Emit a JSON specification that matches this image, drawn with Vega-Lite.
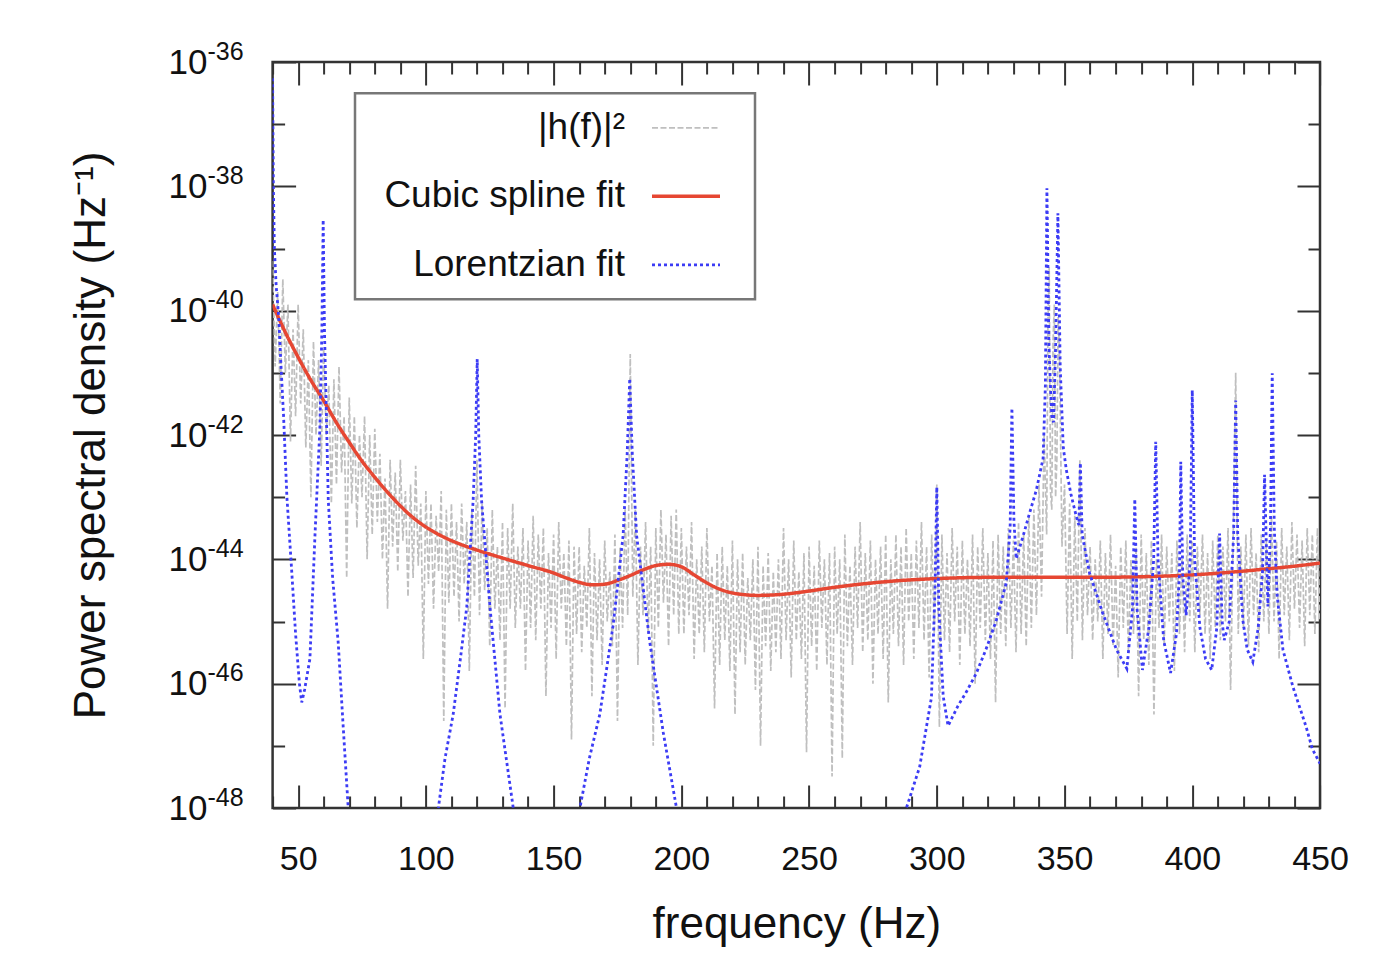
{
"$schema": "https://vega.github.io/schema/vega-lite/v6.json",
"width": 1047.4,
"height": 746,
"autosize": {"type": "none"},
"padding": {"left": 272.6, "top": 62, "right": 78, "bottom": 156},
"background": "#ffffff",
"config": {
  "font": "Liberation Sans",
  "view": {"stroke": "#333333", "strokeWidth": 2.5},
  "axis": {"grid": false, "domain": false, "tickColor": "#333333", "tickWidth": 2, "labelColor": "#111111", "titleColor": "#111111", "titleFontWeight": "normal", "labelFont": "Liberation Sans", "titleFont": "Liberation Sans"},
  "legend": {"symbolType": "M-2,0H2M2.7,0H2.7", "symbolSize": 1156, "symbolOffset": 296, "labelAlign": "right", "labelOffset": -80, "labelFontSize": 37, "labelFont": "Liberation Sans", "labelColor": "#111111", "labelLimit": 600, "rowPadding": 31, "padding": 16, "strokeColor": "#777777", "strokeWidth": 2.5, "fillColor": "#ffffff"}
},
"datasets": {
"psd": [
{"f":40,"v":6.3e-40},{"f":41,"v":1.26e-41},{"f":42,"v":2.0e-40},{"f":43,"v":3.2e-42},{"f":44,"v":3.2e-40},{"f":45,"v":1.0e-41},{"f":46,"v":1.26e-40},{"f":47,"v":7.9e-43},{"f":48,"v":5.0e-41},{"f":49,"v":2.0e-42},
{"f":50,"v":1.26e-40},{"f":51,"v":3.2e-42},{"f":52,"v":5.0e-41},{"f":53,"v":6.3e-43},{"f":54,"v":1.6e-41},{"f":55,"v":1.0e-43},{"f":56,"v":3.2e-41},{"f":57,"v":1.0e-42},{"f":58,"v":1.6e-41},{"f":59,"v":3.2e-43},
{"f":60,"v":2.5e-41},{"f":61,"v":1.0e-42},{"f":62,"v":6.3e-42},{"f":63,"v":7.9e-44},{"f":64,"v":7.9e-42},{"f":65,"v":1.6e-43},{"f":66,"v":1.26e-41},{"f":67,"v":2.5e-43},{"f":68,"v":2.0e-42},{"f":69,"v":5.0e-45},
{"f":70,"v":4.0e-42},{"f":71,"v":7.9e-44},{"f":72,"v":2.0e-42},{"f":73,"v":3.2e-44},{"f":74,"v":1.0e-42},{"f":75,"v":1.0e-43},{"f":76,"v":2.0e-42},{"f":77,"v":1.0e-44},{"f":78,"v":1.0e-42},{"f":79,"v":2.5e-44},
{"f":80,"v":1.26e-42},{"f":81,"v":4.0e-44},{"f":82,"v":5.0e-43},{"f":83,"v":1.0e-44},{"f":84,"v":2.0e-43},{"f":85,"v":1.6e-45},{"f":86,"v":4.0e-43},{"f":87,"v":1.6e-44},{"f":88,"v":2.5e-43},{"f":89,"v":6.3e-45},
{"f":90,"v":4.0e-43},{"f":91,"v":2.0e-44},{"f":92,"v":1.26e-43},{"f":93,"v":2.5e-45},{"f":94,"v":1.6e-43},{"f":95,"v":5.0e-45},{"f":96,"v":3.2e-43},{"f":97,"v":7.9e-45},{"f":98,"v":7.9e-44},{"f":99,"v":2.5e-46},
{"f":100,"v":1.26e-43},{"f":101,"v":4.0e-45},{"f":102,"v":7.9e-44},{"f":103,"v":1.6e-45},{"f":104,"v":5.0e-44},{"f":105,"v":6.3e-45},{"f":106,"v":1.26e-43},{"f":107,"v":2.5e-47},{"f":108,"v":6.3e-44},{"f":109,"v":2.0e-45},
{"f":110,"v":7.9e-44},{"f":111,"v":2.5e-45},{"f":112,"v":4.0e-44},{"f":113,"v":1.0e-45},{"f":114,"v":7.9e-44},{"f":115,"v":4.0e-45},{"f":116,"v":4.0e-44},{"f":117,"v":1.6e-46},{"f":118,"v":6.3e-44},{"f":119,"v":2.5e-45},
{"f":120,"v":4.0e-43},{"f":121,"v":1.26e-45},{"f":122,"v":7.9e-44},{"f":123,"v":3.2e-45},{"f":124,"v":3.2e-44},{"f":125,"v":4.0e-46},{"f":126,"v":6.3e-44},{"f":127,"v":1.6e-45},{"f":128,"v":1.6e-44},{"f":129,"v":5.0e-46},
{"f":130,"v":4.0e-44},{"f":131,"v":4.0e-47},{"f":132,"v":3.2e-44},{"f":133,"v":1.6e-45},{"f":134,"v":7.9e-44},{"f":135,"v":7.9e-46},{"f":136,"v":1.6e-44},{"f":137,"v":1.6e-45},{"f":138,"v":3.2e-44},{"f":139,"v":1.6e-46},
{"f":140,"v":2.0e-44},{"f":141,"v":7.9e-46},{"f":142,"v":5.0e-44},{"f":143,"v":5.0e-46},{"f":144,"v":2.5e-44},{"f":145,"v":1.6e-45},{"f":146,"v":3.2e-44},{"f":147,"v":6.3e-47},{"f":148,"v":1.26e-44},{"f":149,"v":7.9e-46},
{"f":150,"v":2.5e-44},{"f":151,"v":2.5e-46},{"f":152,"v":4.0e-44},{"f":153,"v":1.6e-45},{"f":154,"v":1.26e-44},{"f":155,"v":4.0e-46},{"f":156,"v":2.0e-44},{"f":157,"v":1.26e-47},{"f":158,"v":1.6e-44},{"f":159,"v":6.3e-46},
{"f":160,"v":1.6e-44},{"f":161,"v":3.2e-46},{"f":162,"v":7.9e-45},{"f":163,"v":7.9e-46},{"f":164,"v":3.2e-44},{"f":165,"v":6.3e-47},{"f":166,"v":1.26e-44},{"f":167,"v":5.0e-46},{"f":168,"v":1.0e-44},{"f":169,"v":2.0e-46},
{"f":170,"v":2.0e-44},{"f":171,"v":1.0e-45},{"f":172,"v":6.3e-45},{"f":173,"v":4.0e-46},{"f":174,"v":2.5e-44},{"f":175,"v":2.5e-47},{"f":176,"v":1.6e-44},{"f":177,"v":7.9e-46},{"f":178,"v":6.3e-44},{"f":179,"v":1.26e-45},
{"f":180,"v":2.0e-41},{"f":181,"v":2.5e-45},{"f":182,"v":6.3e-44},{"f":183,"v":2.0e-46},{"f":184,"v":1.6e-44},{"f":185,"v":1.26e-45},{"f":186,"v":4.0e-44},{"f":187,"v":6.3e-46},{"f":188,"v":1.6e-44},{"f":189,"v":1.0e-47},
{"f":190,"v":3.2e-44},{"f":191,"v":7.9e-46},{"f":192,"v":6.3e-44},{"f":193,"v":2.0e-45},{"f":194,"v":2.5e-44},{"f":195,"v":4.0e-46},{"f":196,"v":5.0e-44},{"f":197,"v":1.26e-45},{"f":198,"v":6.3e-44},{"f":199,"v":6.3e-46},
{"f":200,"v":3.2e-44},{"f":201,"v":6.3e-46},{"f":202,"v":1.6e-44},{"f":203,"v":1.26e-45},{"f":204,"v":4.0e-44},{"f":205,"v":2.5e-46},{"f":206,"v":1.0e-44},{"f":207,"v":6.3e-46},{"f":208,"v":1.6e-44},{"f":209,"v":3.2e-46},
{"f":210,"v":3.2e-44},{"f":211,"v":1.0e-45},{"f":212,"v":7.9e-45},{"f":213,"v":4.0e-47},{"f":214,"v":1.26e-44},{"f":215,"v":2.0e-46},{"f":216,"v":1.6e-44},{"f":217,"v":5.0e-46},{"f":218,"v":7.9e-45},{"f":219,"v":1.6e-46},
{"f":220,"v":2.0e-44},{"f":221,"v":3.2e-47},{"f":222,"v":1.0e-44},{"f":223,"v":3.2e-46},{"f":224,"v":1.26e-44},{"f":225,"v":2.0e-46},{"f":226,"v":5.0e-45},{"f":227,"v":5.0e-46},{"f":228,"v":1.0e-44},{"f":229,"v":7.9e-47},
{"f":230,"v":1.6e-44},{"f":231,"v":1.0e-47},{"f":232,"v":7.9e-45},{"f":233,"v":4.0e-46},{"f":234,"v":1.26e-44},{"f":235,"v":1.6e-46},{"f":236,"v":6.3e-45},{"f":237,"v":3.2e-46},{"f":238,"v":1.0e-44},{"f":239,"v":2.5e-46},
{"f":240,"v":3.2e-44},{"f":241,"v":5.0e-46},{"f":242,"v":1.0e-44},{"f":243,"v":1.26e-46},{"f":244,"v":2.0e-44},{"f":245,"v":5.0e-46},{"f":246,"v":6.3e-45},{"f":247,"v":2.5e-46},{"f":248,"v":1.26e-44},{"f":249,"v":7.9e-48},
{"f":250,"v":1.6e-44},{"f":251,"v":4.0e-46},{"f":252,"v":7.9e-45},{"f":253,"v":1.6e-46},{"f":254,"v":2.0e-44},{"f":255,"v":7.9e-46},{"f":256,"v":1.0e-44},{"f":257,"v":2.0e-46},{"f":258,"v":1.26e-44},{"f":259,"v":3.2e-48},
{"f":260,"v":1.6e-44},{"f":261,"v":6.3e-46},{"f":262,"v":1.0e-44},{"f":263,"v":6.3e-48},{"f":264,"v":2.5e-44},{"f":265,"v":4.0e-46},{"f":266,"v":7.9e-45},{"f":267,"v":2.0e-46},{"f":268,"v":1.6e-44},{"f":269,"v":7.9e-46},
{"f":270,"v":4.0e-44},{"f":271,"v":3.2e-46},{"f":272,"v":1.26e-44},{"f":273,"v":5.0e-46},{"f":274,"v":2.0e-44},{"f":275,"v":1.0e-46},{"f":276,"v":1.0e-44},{"f":277,"v":6.3e-46},{"f":278,"v":1.6e-44},{"f":279,"v":2.5e-46},
{"f":280,"v":2.5e-44},{"f":281,"v":5.0e-47},{"f":282,"v":1.0e-44},{"f":283,"v":6.3e-46},{"f":284,"v":2.5e-44},{"f":285,"v":4.0e-46},{"f":286,"v":1.6e-44},{"f":287,"v":2.0e-46},{"f":288,"v":3.2e-44},{"f":289,"v":1.0e-45},
{"f":290,"v":1.26e-44},{"f":291,"v":2.5e-46},{"f":292,"v":2.0e-44},{"f":293,"v":7.9e-46},{"f":294,"v":4.0e-44},{"f":295,"v":5.0e-46},{"f":296,"v":1.6e-44},{"f":297,"v":1.26e-46},{"f":298,"v":2.5e-44},{"f":299,"v":6.3e-46},
{"f":300,"v":1.6e-43},{"f":301,"v":2.0e-47},{"f":302,"v":2.5e-44},{"f":303,"v":5.0e-46},{"f":304,"v":1.26e-44},{"f":305,"v":3.2e-46},{"f":306,"v":3.2e-44},{"f":307,"v":1.0e-45},{"f":308,"v":1.6e-44},{"f":309,"v":2.0e-46},
{"f":310,"v":2.0e-44},{"f":311,"v":6.3e-46},{"f":312,"v":1.0e-44},{"f":313,"v":4.0e-46},{"f":314,"v":2.5e-44},{"f":315,"v":1.0e-46},{"f":316,"v":1.6e-44},{"f":317,"v":7.9e-46},{"f":318,"v":3.2e-44},{"f":319,"v":5.0e-46},
{"f":320,"v":1.26e-44},{"f":321,"v":2.5e-46},{"f":322,"v":2.0e-44},{"f":323,"v":5.0e-47},{"f":324,"v":2.5e-44},{"f":325,"v":6.3e-46},{"f":326,"v":1.6e-44},{"f":327,"v":4.0e-46},{"f":328,"v":3.2e-44},{"f":329,"v":7.9e-46},
{"f":330,"v":2.0e-44},{"f":331,"v":3.2e-46},{"f":332,"v":4.0e-44},{"f":333,"v":6.3e-46},{"f":334,"v":2.5e-44},{"f":335,"v":4.0e-46},{"f":336,"v":5.0e-44},{"f":337,"v":7.9e-46},{"f":338,"v":6.3e-44},{"f":339,"v":1.26e-45},
{"f":340,"v":1.6e-43},{"f":341,"v":2.5e-45},{"f":342,"v":1.0e-42},{"f":343,"v":2.5e-44},{"f":343.5,"v":6.3e-41},{"f":344,"v":5.0e-40},{"f":344.5,"v":1.26e-43},{"f":345,"v":6.3e-44},{"f":345.5,"v":3.2e-41},{"f":346,"v":1.26e-40},
{"f":346.5,"v":1.0e-43},{"f":347,"v":4.0e-43},{"f":347.5,"v":7.9e-41},{"f":348,"v":2.5e-41},{"f":349,"v":1.6e-44},
{"f":350,"v":1.6e-43},{"f":351,"v":6.3e-46},{"f":352,"v":7.9e-44},{"f":353,"v":2.5e-46},{"f":354,"v":5.0e-44},{"f":355,"v":1.0e-45},{"f":356,"v":4.0e-43},{"f":357,"v":5.0e-46},{"f":358,"v":3.2e-44},{"f":359,"v":1.26e-45},
{"f":360,"v":1.6e-44},{"f":361,"v":5.0e-46},{"f":362,"v":1.0e-44},{"f":363,"v":1.0e-45},{"f":364,"v":2.0e-44},{"f":365,"v":2.5e-46},{"f":366,"v":1.26e-44},{"f":367,"v":6.3e-46},{"f":368,"v":2.5e-44},{"f":369,"v":4.0e-46},
{"f":370,"v":7.9e-45},{"f":371,"v":1.26e-46},{"f":372,"v":1.6e-44},{"f":373,"v":7.9e-46},{"f":374,"v":2.0e-44},{"f":375,"v":3.2e-46},{"f":376,"v":1.0e-44},{"f":377,"v":6.3e-46},{"f":378,"v":1.6e-44},{"f":379,"v":6.3e-47},
{"f":380,"v":2.5e-44},{"f":381,"v":5.0e-46},{"f":382,"v":1.26e-44},{"f":383,"v":2.0e-46},{"f":384,"v":2.0e-44},{"f":385,"v":3.2e-47},{"f":386,"v":1.0e-44},{"f":387,"v":7.9e-46},{"f":388,"v":2.5e-44},{"f":389,"v":4.0e-46},
{"f":390,"v":1.6e-44},{"f":391,"v":1.0e-45},{"f":392,"v":1.26e-44},{"f":393,"v":1.6e-46},{"f":394,"v":2.0e-44},{"f":395,"v":6.3e-46},{"f":396,"v":1.0e-44},{"f":397,"v":3.2e-46},{"f":398,"v":2.5e-44},{"f":399,"v":1.0e-45},
{"f":400,"v":2.0e-44},{"f":401,"v":3.2e-46},{"f":402,"v":1.6e-44},{"f":403,"v":1.26e-45},{"f":404,"v":2.5e-44},{"f":405,"v":6.3e-46},{"f":406,"v":1.26e-44},{"f":407,"v":2.5e-46},{"f":408,"v":2.0e-44},{"f":409,"v":7.9e-46},
{"f":410,"v":2.5e-44},{"f":411,"v":5.0e-46},{"f":412,"v":1.6e-44},{"f":413,"v":1.0e-45},{"f":414,"v":3.2e-44},{"f":415,"v":7.9e-47},{"f":416,"v":2.0e-44},{"f":417,"v":1.0e-41},{"f":418,"v":6.3e-46},{"f":419,"v":1.6e-44},
{"f":420,"v":7.9e-46},{"f":421,"v":2.5e-44},{"f":422,"v":4.0e-46},{"f":423,"v":3.2e-44},{"f":424,"v":1.26e-45},{"f":425,"v":1.26e-44},{"f":426,"v":3.2e-46},{"f":427,"v":2.5e-44},{"f":428,"v":1.0e-45},{"f":429,"v":2.0e-44},
{"f":430,"v":6.3e-46},{"f":431,"v":5.0e-44},{"f":432,"v":1.0e-45},{"f":433,"v":2.0e-44},{"f":434,"v":2.5e-46},{"f":435,"v":3.2e-44},{"f":436,"v":1.26e-45},{"f":437,"v":1.6e-44},{"f":438,"v":5.0e-46},{"f":439,"v":4.0e-44},
{"f":440,"v":1.6e-45},{"f":441,"v":2.5e-44},{"f":442,"v":7.9e-46},{"f":443,"v":2.0e-44},{"f":444,"v":4.0e-46},{"f":445,"v":3.2e-44},{"f":446,"v":1.26e-45},{"f":447,"v":2.5e-44},{"f":448,"v":6.3e-46},{"f":449,"v":3.2e-44},
{"f":450,"v":1.0e-45}
],
"spline": [
{"f":40,"v":1.26e-40},{"f":45,"v":4.47e-41},{"f":50,"v":1.78e-41},{"f":55,"v":7.59e-42},{"f":60,"v":3.55e-42},{"f":65,"v":1.58e-42},{"f":70,"v":7.59e-43},{"f":75,"v":3.80e-43},{"f":80,"v":2.09e-43},{"f":85,"v":1.20e-43},
{"f":90,"v":7.24e-44},{"f":95,"v":4.68e-44},{"f":100,"v":3.31e-44},{"f":105,"v":2.51e-44},{"f":110,"v":2.00e-44},{"f":115,"v":1.66e-44},{"f":120,"v":1.41e-44},{"f":130,"v":1.05e-44},{"f":140,"v":7.94e-45},{"f":150,"v":6.03e-45},
{"f":155,"v":5.01e-45},{"f":160,"v":4.27e-45},{"f":165,"v":3.89e-45},{"f":170,"v":3.98e-45},{"f":175,"v":4.57e-45},{"f":180,"v":5.50e-45},{"f":185,"v":6.76e-45},{"f":190,"v":7.94e-45},{"f":195,"v":8.32e-45},{"f":200,"v":7.59e-45},
{"f":205,"v":5.62e-45},{"f":210,"v":4.17e-45},{"f":215,"v":3.31e-45},{"f":220,"v":2.88e-45},{"f":225,"v":2.69e-45},{"f":230,"v":2.63e-45},{"f":240,"v":2.75e-45},{"f":250,"v":3.09e-45},{"f":260,"v":3.55e-45},{"f":270,"v":3.98e-45},
{"f":280,"v":4.37e-45},{"f":290,"v":4.68e-45},{"f":300,"v":4.90e-45},{"f":320,"v":5.13e-45},{"f":340,"v":5.13e-45},{"f":360,"v":5.13e-45},{"f":380,"v":5.25e-45},{"f":400,"v":5.62e-45},{"f":420,"v":6.46e-45},{"f":430,"v":7.08e-45},
{"f":440,"v":7.76e-45},{"f":450,"v":8.71e-45}
],
"lorentz": [
{"f":40.0,"v":5.5e-37},{"f":40.3,"v":1.0e-38},{"f":40.7,"v":1.0e-39},{"f":41.4,"v":2.5e-40},{"f":42.4,"v":7.9e-41},{"f":43.3,"v":1.26e-41},{"f":44.3,"v":2.0e-42},{"f":45.6,"v":1.0e-43},{"f":47.5,"v":6.3e-45},{"f":49.0,"v":6.3e-46},
{"f":50.5,"v":1.0e-46},{"f":51.4,"v":5.0e-47},{"f":52.5,"v":7.9e-47},{"f":54.6,"v":2.5e-46},{"f":56.6,"v":2.5e-44},{"f":58.5,"v":1.26e-42},{"f":59.3,"v":5.0e-41},{"f":59.8,"v":2.9e-39},{"f":60.3,"v":5.0e-41},{"f":61.8,"v":8.9e-44},
{"f":63.5,"v":5.0e-45},{"f":65.7,"v":4.5e-46},{"f":67.5,"v":2.5e-47},{"f":69.6,"v":1.0e-48},{"f":71.5,"v":5.0e-50},{"f":87.0,"v":1.0e-51},{"f":104.9,"v":1.0e-48},{"f":107.5,"v":6.3e-48},{"f":110.7,"v":3.24e-47},{"f":113.5,"v":2.5e-46},
{"f":116.0,"v":1.7e-45},{"f":118.5,"v":8.9e-44},{"f":119.5,"v":1.0e-42},{"f":120.1,"v":1.66e-41},{"f":120.7,"v":1.0e-42},{"f":121.8,"v":8.9e-44},{"f":125.1,"v":1.7e-45},{"f":129.0,"v":3.24e-47},{"f":134.2,"v":1.0e-48},{"f":137.0,"v":1.6e-49},
{"f":147.0,"v":1.0e-50},{"f":160.3,"v":1.0e-48},{"f":164.0,"v":6.3e-48},{"f":168.1,"v":3.24e-47},{"f":173.3,"v":8.7e-46},{"f":177.2,"v":2.4e-44},{"f":178.8,"v":5.0e-43},{"f":179.8,"v":8.1e-42},{"f":180.8,"v":5.0e-43},{"f":182.5,"v":2.4e-44},
{"f":187.7,"v":4.5e-46},{"f":192.9,"v":1.66e-47},{"f":198.1,"v":1.0e-48},{"f":203.0,"v":6.3e-50},{"f":245.0,"v":1.0e-52},{"f":288.1,"v":1.0e-48},{"f":293.3,"v":4.6e-48},{"f":297.9,"v":6.0e-47},{"f":299.3,"v":3.2e-45},{"f":300.0,"v":1.45e-43},
{"f":300.8,"v":1.6e-45},{"f":302.5,"v":6.3e-47},{"f":304.4,"v":2.1e-47},{"f":308.3,"v":4.4e-47},{"f":311.6,"v":7.4e-47},{"f":315.5,"v":1.48e-46},{"f":319.4,"v":3.7e-46},{"f":323.3,"v":1.05e-45},{"f":327.2,"v":4.2e-45},{"f":328.7,"v":3.2e-44},
{"f":329.4,"v":2.7e-42},{"f":330.2,"v":4.0e-44},{"f":331.1,"v":1.02e-44},{"f":333.7,"v":2.3e-44},{"f":336.0,"v":5.0e-44},{"f":339.0,"v":1.32e-43},{"f":341.6,"v":4.2e-43},{"f":342.5,"v":6.3e-42},{"f":343.1,"v":9.3e-39},{"f":343.9,"v":2.5e-41},
{"f":345.0,"v":2.0e-42},{"f":345.7,"v":1.6e-42},{"f":346.5,"v":2.5e-41},{"f":347.4,"v":3.7e-39},{"f":348.3,"v":1.26e-41},{"f":349.5,"v":6.3e-43},{"f":350.7,"v":2.75e-43},{"f":352.5,"v":1.12e-43},{"f":354.6,"v":4.9e-44},{"f":355.6,"v":3.55e-44},
{"f":356.2,"v":3.55e-43},{"f":356.9,"v":2.5e-44},{"f":359.8,"v":6.0e-45},{"f":364.9,"v":1.38e-45},{"f":370.3,"v":3.55e-46},{"f":374.4,"v":1.74e-46},{"f":376.6,"v":1.6e-45},{"f":377.5,"v":9.3e-44},{"f":378.4,"v":1.6e-45},{"f":380.5,"v":1.66e-46},
{"f":383.0,"v":7.9e-46},{"f":384.9,"v":1.0e-44},{"f":385.7,"v":7.8e-43},{"f":386.6,"v":1.0e-44},{"f":388.8,"v":5.0e-46},{"f":391.5,"v":1.48e-46},{"f":393.8,"v":6.3e-46},{"f":395.0,"v":6.3e-45},{"f":395.5,"v":3.7e-43},{"f":396.3,"v":5.0e-45},
{"f":397.6,"v":1.26e-45},{"f":399.2,"v":1.0e-44},{"f":400.0,"v":5.25e-42},{"f":400.9,"v":1.0e-44},{"f":403.0,"v":7.9e-46},{"f":405.2,"v":2.5e-46},{"f":407.6,"v":1.66e-46},{"f":409.6,"v":7.9e-46},{"f":410.7,"v":2.6e-44},{"f":411.7,"v":1.0e-45},
{"f":412.5,"v":5.0e-46},{"f":414.5,"v":1.0e-45},{"f":416.2,"v":2.5e-44},{"f":417.0,"v":3.6e-42},{"f":417.8,"v":2.5e-44},{"f":419.8,"v":1.05e-45},{"f":421.5,"v":3.55e-46},{"f":423.7,"v":2.24e-46},{"f":425.8,"v":7.9e-46},{"f":427.5,"v":6.3e-45},
{"f":428.3,"v":2.3e-43},{"f":429.6,"v":1.74e-45},{"f":430.6,"v":3.2e-44},{"f":431.3,"v":9.8e-42},{"f":432.1,"v":3.2e-44},{"f":433.2,"v":2.7e-45},{"f":435.5,"v":3.5e-46},{"f":439.4,"v":8.9e-47},{"f":444.6,"v":2.0e-47},{"f":447.0,"v":8.9e-48},
{"f":450.0,"v":5.2e-48}
]
},
"resolve": {"axis": {"x": "independent", "y": "independent"}},
"layer": [
{
  "data": {"name": "psd"},
  "mark": {"type": "line", "clip": true},
  "encoding": {
    "x": {"field": "f", "type": "quantitative", "scale": {"domain": [40, 450], "nice": false, "zero": false},
      "axis": {"orient": "bottom", "values": [50,100,150,200,250,300,350,400,450], "ticks": false, "tickSize": 0, "labelFontSize": 34, "labelPadding": 34, "labelFlush": false, "labelOverlap": false, "title": "frequency (Hz)", "titleFontSize": 44, "titlePadding": 26}},
    "y": {"field": "v", "type": "quantitative", "scale": {"type": "log", "domain": [1e-48, 1e-36], "nice": false},
      "axis": {"orient": "left", "values": [1e-36,1e-38,1e-40,1e-42,1e-44,1e-46,1e-48], "ticks": false, "tickSize": 0, "labelExpr": "'10'", "labelAlign": "right", "labelBaseline": "middle", "labelFontSize": 35, "labelPadding": 65.6, "labelFlush": false, "labelOverlap": false, "title": "Power spectral density (Hz⁻¹)", "titleFontSize": 44, "titlePadding": 55}},
    "color": {"datum": "|h(f)|²", "type": "nominal", "scale": {"domain": ["|h(f)|²", "Cubic spline fit", "Lorentzian fit"], "range": ["#bfbfbf", "#e64632", "#3c3cf5"]}, "legend": {"orient": "none", "legendX": 82.4, "legendY": 31.3, "title": null}},
    "strokeDash": {"datum": "|h(f)|²", "type": "nominal", "scale": {"domain": ["|h(f)|²", "Cubic spline fit", "Lorentzian fit"], "range": [[6, 2.5], [1, 0], [3, 3]]}, "legend": {"orient": "none", "legendX": 82.4, "legendY": 31.3, "title": null}},
    "strokeWidth": {"datum": "|h(f)|²", "type": "ordinal", "scale": {"type": "ordinal", "domain": ["|h(f)|²", "Cubic spline fit", "Lorentzian fit"], "range": [1.7, 3.5, 2.8]}, "legend": {"orient": "none", "legendX": 82.4, "legendY": 31.3, "title": null}}
  }
},
{
  "data": {"name": "spline"},
  "mark": {"type": "line", "clip": true, "interpolate": "monotone"},
  "encoding": {
    "x": {"field": "f", "type": "quantitative", "scale": {"domain": [40, 450], "nice": false, "zero": false},
      "axis": {"orient": "bottom", "values": [40,50,60,70,80,90,100,110,120,130,140,150,160,170,180,190,200,210,220,230,240,250,260,270,280,290,300,310,320,330,340,350,360,370,380,390,400,410,420,430,440,450], "labels": false, "title": null, "tickSize": {"condition": {"test": "datum.value % 50 == 0", "value": -23}, "value": -12}}},
    "y": {"field": "v", "type": "quantitative", "scale": {"type": "log", "domain": [1e-48, 1e-36], "nice": false},
      "axis": {"orient": "left", "values": [1e-36,1e-38,1e-40,1e-42,1e-44,1e-46,1e-48], "ticks": false, "tickSize": 0, "labelExpr": "'-' + abs(round(log(datum.value)/LN10))", "labelAlign": "left", "labelBaseline": "middle", "labelFontSize": 25, "labelPadding": 65.6, "labelOffset": -11, "labelFlush": false, "labelOverlap": false, "title": null}},
    "color": {"datum": "Cubic spline fit", "type": "nominal", "scale": {"domain": ["|h(f)|²", "Cubic spline fit", "Lorentzian fit"], "range": ["#bfbfbf", "#e64632", "#3c3cf5"]}, "legend": {"orient": "none", "legendX": 82.4, "legendY": 31.3, "title": null}},
    "strokeDash": {"datum": "Cubic spline fit", "type": "nominal", "scale": {"domain": ["|h(f)|²", "Cubic spline fit", "Lorentzian fit"], "range": [[6, 2.5], [1, 0], [3, 3]]}, "legend": {"orient": "none", "legendX": 82.4, "legendY": 31.3, "title": null}},
    "strokeWidth": {"datum": "Cubic spline fit", "type": "ordinal", "scale": {"type": "ordinal", "domain": ["|h(f)|²", "Cubic spline fit", "Lorentzian fit"], "range": [1.7, 3.5, 2.8]}, "legend": {"orient": "none", "legendX": 82.4, "legendY": 31.3, "title": null}}
  }
},
{
  "data": {"name": "lorentz"},
  "mark": {"type": "line", "clip": true},
  "encoding": {
    "x": {"field": "f", "type": "quantitative", "scale": {"domain": [40, 450], "nice": false, "zero": false},
      "axis": {"orient": "top", "values": [40,50,60,70,80,90,100,110,120,130,140,150,160,170,180,190,200,210,220,230,240,250,260,270,280,290,300,310,320,330,340,350,360,370,380,390,400,410,420,430,440,450], "labels": false, "title": null, "tickSize": {"condition": {"test": "datum.value % 50 == 0", "value": -23}, "value": -12}}},
    "y": {"field": "v", "type": "quantitative", "scale": {"type": "log", "domain": [1e-48, 1e-36], "nice": false},
      "axis": {"orient": "left", "values": [1e-36,1e-37,1e-38,1e-39,1e-40,1e-41,1e-42,1e-43,1e-44,1e-45,1e-46,1e-47,1e-48], "labels": false, "title": null, "tickSize": {"condition": {"test": "abs(round(log(datum.value)/LN10)) % 2 == 0", "value": -23}, "value": -12}}},
    "color": {"datum": "Lorentzian fit", "type": "nominal", "scale": {"domain": ["|h(f)|²", "Cubic spline fit", "Lorentzian fit"], "range": ["#bfbfbf", "#e64632", "#3c3cf5"]}, "legend": {"orient": "none", "legendX": 82.4, "legendY": 31.3, "title": null}},
    "strokeDash": {"datum": "Lorentzian fit", "type": "nominal", "scale": {"domain": ["|h(f)|²", "Cubic spline fit", "Lorentzian fit"], "range": [[6, 2.5], [1, 0], [3, 3]]}, "legend": {"orient": "none", "legendX": 82.4, "legendY": 31.3, "title": null}},
    "strokeWidth": {"datum": "Lorentzian fit", "type": "ordinal", "scale": {"type": "ordinal", "domain": ["|h(f)|²", "Cubic spline fit", "Lorentzian fit"], "range": [1.7, 3.5, 2.8]}, "legend": {"orient": "none", "legendX": 82.4, "legendY": 31.3, "title": null}}
  }
},
{
  "data": {"values": []},
  "mark": {"type": "point", "opacity": 0},
  "encoding": {
    "x": {"field": "f", "type": "quantitative", "scale": {"domain": [40, 450], "nice": false, "zero": false}, "axis": null},
    "y": {"field": "v", "type": "quantitative", "scale": {"type": "log", "domain": [1e-48, 1e-36], "nice": false},
      "axis": {"orient": "right", "values": [1e-36,1e-37,1e-38,1e-39,1e-40,1e-41,1e-42,1e-43,1e-44,1e-45,1e-46,1e-47,1e-48], "labels": false, "title": null, "tickSize": {"condition": {"test": "abs(round(log(datum.value)/LN10)) % 2 == 0", "value": -23}, "value": -12}}}
  }
}
]
}
